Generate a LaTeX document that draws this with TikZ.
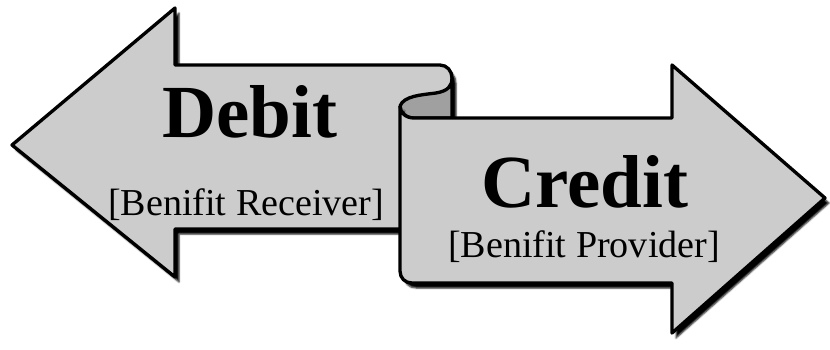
\documentclass[tikz,border=0pt]{standalone}
\usepackage{fontspec}
\setmainfont{Liberation Serif}
\usetikzlibrary{shadows.blur}

\definecolor{sheetgray}{RGB}{204,204,204}
\definecolor{rollgray}{RGB}{160,160,160}

\begin{document}
\begin{tikzpicture}[x=0.3mm,y=-0.3mm,line join=round,
  sheet/.style={draw=black,line width=1mm,fill=sheetgray,
    blur shadow={shadow xshift=1.2mm,shadow yshift=-1.5mm,shadow opacity=100,shadow blur radius=0.5mm}},
  roll/.style={draw=black,line width=1mm,fill=rollgray},
  title/.style={anchor=base,inner sep=0pt,font=\fontsize{64pt}{64pt}\selectfont\bfseries},
  role/.style={anchor=base,inner sep=0pt,font=\fontsize{32.5pt}{34pt}\selectfont}]
  \useasboundingbox (0,0) rectangle (830,349);
  % left arrow (debit side)
  \draw[sheet] (12,145) -- (175,8) -- (175,65) -- (440,65)
    .. controls (447,65) and (452,71) .. (452,78) -- (452,229)
    -- (175,229) -- (175,277) -- cycle;
  % the rolled-up part of the scroll
  \draw[roll] (400,106) .. controls (404,96) and (420,95) .. (436,93)
    .. controls (448,91) and (452,86) .. (452,78) -- (452,118) -- (414,118)
    .. controls (405,118) and (400,112) .. (400,106);
  % right arrow (credit side)
  \draw[sheet] (400,106) -- (400,271) .. controls (400,278) and (405,283) .. (412,283)
    -- (672,283) -- (672,333) -- (825,198) -- (672,65) -- (672,118) -- (414,118)
    .. controls (405,118) and (400,112) .. (400,106) -- cycle;
  \node[title] (debit) at (250,137) {Debit};
  \node[role] (receiver) at (246,215) {[Benifit Receiver]};
  \node[title] (credit) at (585,207) {Credit};
  \node[role] (provider) at (584,257) {[Benifit Provider]};
\end{tikzpicture}
\end{document}
